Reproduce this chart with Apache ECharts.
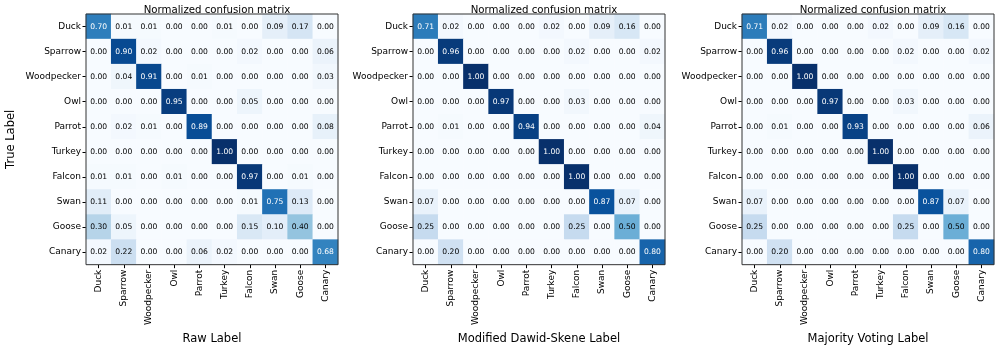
<!DOCTYPE html>
<html>
<head>
<meta charset="utf-8">
<style>html,body{margin:0;padding:0;background:#fff;}#c{width:1000px;height:350px;}</style>
<script src="https://cdn.jsdelivr.net/npm/echarts@6/dist/echarts.min.js"></script>
</head>
<body>
<div id="c"></div>
<script>
const classes = ['Duck','Sparrow','Woodpecker','Owl','Parrot','Turkey','Falcon','Swan','Goose','Canary'];
const chartTitles = ['Normalized confusion matrix','Normalized confusion matrix','Normalized confusion matrix'];
const xAxisNames = ['Raw Label','Modified Dawid-Skene Label','Majority Voting Label'];
const yAxisName = 'True Label';

const rawLabel = [
  [0.70,0.01,0.01,0.00,0.00,0.01,0.00,0.09,0.17,0.00],
  [0.00,0.90,0.02,0.00,0.00,0.00,0.02,0.00,0.00,0.06],
  [0.00,0.04,0.91,0.00,0.01,0.00,0.00,0.00,0.00,0.03],
  [0.00,0.00,0.00,0.95,0.00,0.00,0.05,0.00,0.00,0.00],
  [0.00,0.02,0.01,0.00,0.89,0.00,0.00,0.00,0.00,0.08],
  [0.00,0.00,0.00,0.00,0.00,1.00,0.00,0.00,0.00,0.00],
  [0.01,0.01,0.00,0.01,0.00,0.00,0.97,0.00,0.01,0.00],
  [0.11,0.00,0.00,0.00,0.00,0.00,0.01,0.75,0.13,0.00],
  [0.30,0.05,0.00,0.00,0.00,0.00,0.15,0.10,0.40,0.00],
  [0.02,0.22,0.00,0.00,0.06,0.02,0.00,0.00,0.00,0.68]
];
const dawidSkeneLabel = [
  [0.71,0.02,0.00,0.00,0.00,0.02,0.00,0.09,0.16,0.00],
  [0.00,0.96,0.00,0.00,0.00,0.00,0.02,0.00,0.00,0.02],
  [0.00,0.00,1.00,0.00,0.00,0.00,0.00,0.00,0.00,0.00],
  [0.00,0.00,0.00,0.97,0.00,0.00,0.03,0.00,0.00,0.00],
  [0.00,0.01,0.00,0.00,0.94,0.00,0.00,0.00,0.00,0.04],
  [0.00,0.00,0.00,0.00,0.00,1.00,0.00,0.00,0.00,0.00],
  [0.00,0.00,0.00,0.00,0.00,0.00,1.00,0.00,0.00,0.00],
  [0.07,0.00,0.00,0.00,0.00,0.00,0.00,0.87,0.07,0.00],
  [0.25,0.00,0.00,0.00,0.00,0.00,0.25,0.00,0.50,0.00],
  [0.00,0.20,0.00,0.00,0.00,0.00,0.00,0.00,0.00,0.80]
];
const majorityVotingLabel = [
  [0.71,0.02,0.00,0.00,0.00,0.02,0.00,0.09,0.16,0.00],
  [0.00,0.96,0.00,0.00,0.00,0.00,0.02,0.00,0.00,0.02],
  [0.00,0.00,1.00,0.00,0.00,0.00,0.00,0.00,0.00,0.00],
  [0.00,0.00,0.00,0.97,0.00,0.00,0.03,0.00,0.00,0.00],
  [0.00,0.01,0.00,0.00,0.93,0.00,0.00,0.00,0.00,0.06],
  [0.00,0.00,0.00,0.00,0.00,1.00,0.00,0.00,0.00,0.00],
  [0.00,0.00,0.00,0.00,0.00,0.00,1.00,0.00,0.00,0.00],
  [0.07,0.00,0.00,0.00,0.00,0.00,0.00,0.87,0.07,0.00],
  [0.25,0.00,0.00,0.00,0.00,0.00,0.25,0.00,0.50,0.00],
  [0.00,0.20,0.00,0.00,0.00,0.00,0.00,0.00,0.00,0.80]
];

const matrices = [rawLabel, dawidSkeneLabel, majorityVotingLabel];
const blues = ['#f7fbff','#deebf7','#c6dbef','#9ecae1','#6baed6','#4292c6','#2171b5','#08519c','#08306b'];
const FONT = 'DejaVu Sans';
const gridLefts = [86, 413, 742];
const gridTop = 14, cellW = 25.2, cellH = 25.1;

const chart = echarts.init(document.getElementById('c'), null, {renderer:'canvas'});
const grids = [], xAxes = [], yAxes = [], series = [], visualMaps = [], titles = [];

matrices.forEach((m, k) => {
  const maxV = Math.max(...m.flat());
  const thresh = maxV / 2;
  grids.push({left: gridLefts[k], top: gridTop, width: cellW*classes.length, height: cellH*classes.length,
    show: true, borderColor: '#333', borderWidth: 1, backgroundColor: 'transparent', z: 10, containLabel: false});
  titles.push({text: chartTitles[k], left: gridLefts[k] + cellW*classes.length/2, top: 0, textAlign: 'center',
    textStyle: {fontFamily: FONT, fontSize: 10.2, fontWeight: 'normal', color: '#000'}});
  xAxes.push({type: 'category', gridIndex: k, data: classes, position: 'bottom',
    name: xAxisNames[k], nameLocation: 'middle', nameGap: 67,
    nameTextStyle: {fontFamily: FONT, fontSize: 11.5, color: '#000'},
    axisLine: {show: false}, splitLine: {show: false}, splitArea: {show: false},
    axisTick: {show: true, alignWithLabel: true, length: 3.5, lineStyle: {color: '#000'}},
    axisLabel: {rotate: 90, interval: 0, fontFamily: FONT, fontSize: 9, color: '#000', margin: 5}});
  yAxes.push({type: 'category', gridIndex: k, data: classes, inverse: true,
    name: k === 0 ? yAxisName : '', nameLocation: 'middle', nameGap: 69, nameRotate: 90,
    nameTextStyle: {fontFamily: FONT, fontSize: 11.5, color: '#000'},
    axisLine: {show: false}, splitLine: {show: false}, splitArea: {show: false},
    axisTick: {show: true, alignWithLabel: true, length: 3.5, lineStyle: {color: '#000'}},
    axisLabel: {interval: 0, fontFamily: FONT, fontSize: 9, color: '#000', margin: 5}});
  const data = [];
  m.forEach((row, i) => row.forEach((v, j) => {
    data.push({value: [j, i, v], label: {color: v > thresh ? '#fff' : '#000'}});
  }));
  series.push({type: 'heatmap', xAxisIndex: k, yAxisIndex: k, data: data,
    label: {show: true, formatter: p => p.value[2].toFixed(2), fontFamily: FONT, fontSize: 7.6},
    itemStyle: {borderWidth: 0}, emphasis: {disabled: true}, progressive: 0, animation: false});
  visualMaps.push({type: 'continuous', show: false, min: 0, max: 1, dimension: 2, seriesIndex: k,
    inRange: {color: blues}});
});

chart.setOption({
  animation: false,
  title: titles,
  grid: grids,
  xAxis: xAxes,
  yAxis: yAxes,
  visualMap: visualMaps,
  series: series
});
</script>
</body>
</html>
